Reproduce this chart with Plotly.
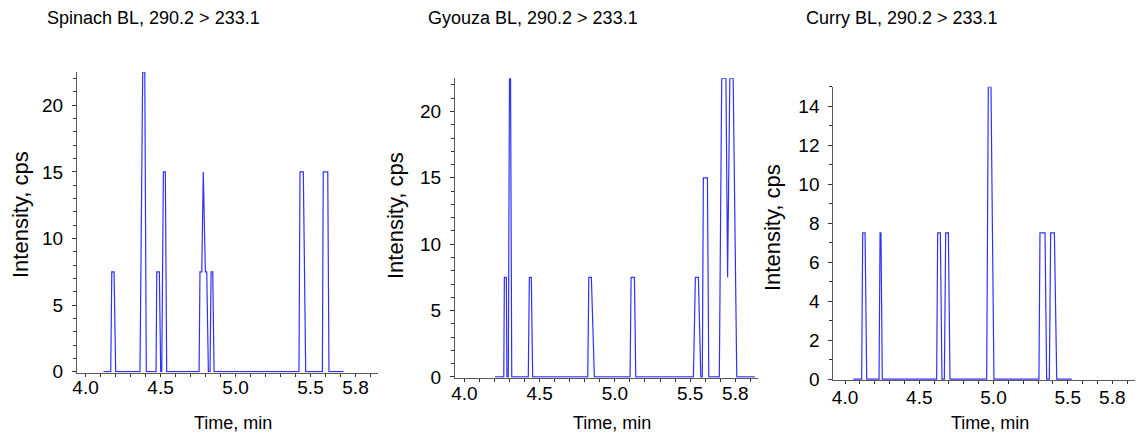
import plotly.graph_objects as go

# Extracted ion chromatograms, transition 290.2 > 233.1 (vertices of each trace)
spinach_time = [4.120, 4.168, 4.175, 4.190, 4.201,
                4.363, 4.381, 4.395, 4.405,
                4.470, 4.475, 4.492, 4.501,
                4.508, 4.519, 4.532, 4.541,
                4.757, 4.763, 4.775, 4.785, 4.799, 4.808, 4.819,
                4.830, 4.837, 4.848, 4.857,
                5.423, 5.430, 5.452, 5.468,
                5.579, 5.585, 5.615, 5.623,
                5.720]
spinach_cps = [0, 0, 7.5, 7.5, 0,
               0, 22.5, 22.5, 0,
               0, 7.5, 7.5, 0,
               0, 15, 15, 0,
               0, 7.5, 7.5, 15, 7.5, 7.5, 0,
               0, 7.5, 7.5, 0,
               0, 15, 15, 0,
               0, 15, 15, 0,
               0]

gyouza_time = [4.204, 4.262, 4.266, 4.279, 4.283,
               4.292, 4.300, 4.307, 4.315,
               4.425, 4.432, 4.445, 4.454,
               4.820, 4.827, 4.844, 4.864,
               5.101, 5.108, 5.130, 5.139,
               5.522, 5.535, 5.555, 5.571,
               5.581, 5.588, 5.615, 5.624,
               5.694, 5.710, 5.738, 5.749, 5.764, 5.786, 5.810,
               5.930]
gyouza_cps = [0, 0, 7.5, 7.5, 0,
              0, 22.5, 22.5, 0,
              0, 7.5, 7.5, 0,
              0, 7.5, 7.5, 0,
              0, 7.5, 7.5, 0,
              0, 7.5, 7.5, 0,
              0, 15, 15, 0,
              0, 22.5, 22.5, 7.5, 22.5, 22.5, 0,
              0]

curry_time = [4.056, 4.112, 4.119, 4.135, 4.146,
              4.229, 4.236, 4.242, 4.251,
              4.617, 4.624, 4.642, 4.653,
              4.669, 4.678, 4.696, 4.707,
              4.954, 4.965, 4.983, 5.003,
              5.306, 5.313, 5.347, 5.358,
              5.376, 5.385, 5.410, 5.426,
              5.527]
curry_cps = [0, 0, 7.5, 7.5, 0,
             0, 7.5, 7.5, 0,
             0, 7.5, 7.5, 0,
             0, 7.5, 7.5, 0,
             0, 15, 15, 0,
             0, 7.5, 7.5, 0,
             0, 7.5, 7.5, 0,
             0]

panel_titles = ["Spinach BL, 290.2 > 233.1",
                "Gyouza BL, 290.2 > 233.1",
                "Curry BL, 290.2 > 233.1"]

x_tick_values = [round(4.0 + 0.1 * i, 1) for i in range(20)]
x_tick_labelled = [4.0, 4.5, 5.0, 5.5, 5.8]

W, H = 1137, 438
FONT = "Liberation Sans, Arial, sans-serif"
LINE = "#3030ff"
AXIS = "#5a5a5a"


def px_x(p):
    return p / W


def px_y(p):
    return 1 - p / H


# plot boxes in pixels: left, right, top, bottom
boxes = [(77, 378, 72, 372.5),
         (455, 758, 78.3, 377.7),
         (833.3, 1135, 86.7, 380)]
x_ranges = [[3.943, 5.950], [3.938, 5.951], [3.921, 5.953]]
y_ranges = [[-0.06, 22.5], [-0.06, 22.5], [-0.04, 15.0]]
y_dticks = [5, 5, 2]
x_label_standoff = [-5, -5, -3]

series = [(spinach_time, spinach_cps),
          (gyouza_time, gyouza_cps),
          (curry_time, curry_cps)]

fig = go.Figure()
layout = dict(
    width=W, height=H, autosize=False,
    margin=dict(l=0, r=0, t=0, b=0, pad=0, autoexpand=False),
    paper_bgcolor="white", plot_bgcolor="white",
    showlegend=False,
    font=dict(family=FONT, color="black", size=18),
)

annotations = []
for i, ((t, c), box) in enumerate(zip(series, boxes)):
    n = "" if i == 0 else str(i + 1)
    fig.add_trace(go.Scatter(
        x=t, y=c, mode="lines",
        line=dict(color=LINE, width=1.2),
        xaxis="x" + n, yaxis="y" + n, hoverinfo="x+y",
    ))
    left, right, top, bottom = box
    layout["xaxis" + n] = dict(
        domain=[px_x(left), px_x(right)],
        anchor="y" + n,
        range=x_ranges[i],
        automargin=False,
        tickmode="array",
        tickvals=x_tick_values,
        ticktext=[f"{v:.1f}" if v in x_tick_labelled else "" for v in x_tick_values],
        ticks="outside", ticklen=3, tickwidth=1, tickcolor="#333",
        showline=True, linecolor=AXIS, linewidth=1,
        showgrid=False, zeroline=False,
        tickfont=dict(size=19, color="black"),
        ticklabelstandoff=x_label_standoff[i],
        layer="below traces",
    )
    layout["yaxis" + n] = dict(
        domain=[px_y(bottom), px_y(top)],
        anchor="x" + n,
        range=y_ranges[i],
        automargin=False,
        tick0=0, dtick=y_dticks[i],
        ticks="outside", ticklen=4, tickwidth=1, tickcolor="#333",
        minor=dict(dtick=1, tick0=0, ticks="outside", ticklen=3,
                   tickcolor="#333", showgrid=False),
        showline=True, linecolor=AXIS, linewidth=1,
        showgrid=False, zeroline=False,
        tickfont=dict(size=19, color="black"),
        ticklabelstandoff=5,
        layer="below traces",
    )

    # panel title
    annotations.append(dict(
        text=panel_titles[i], xref="paper", yref="paper",
        x=px_x([45, 426, 804][i]), y=px_y(18),
        xanchor="left", yanchor="middle", showarrow=False,
        font=dict(size=18, color="black", family=FONT),
    ))
    # y axis title
    annotations.append(dict(
        text="Intensity, cps", xref="paper", yref="paper",
        x=px_x([20, 395, 772][i]), y=px_y([215, 216, 228][i]),
        xanchor="center", yanchor="middle", textangle=-90, showarrow=False,
        font=dict(size=22, color="black", family=FONT),
    ))
    # x axis title
    annotations.append(dict(
        text="Time, min", xref="paper", yref="paper",
        x=px_x([233, 612, 990][i]), y=px_y(423),
        xanchor="center", yanchor="middle", showarrow=False,
        font=dict(size=18, color="black", family=FONT),
    ))

layout["annotations"] = annotations
fig.update_layout(**layout)
fig.write_html("out.html")
